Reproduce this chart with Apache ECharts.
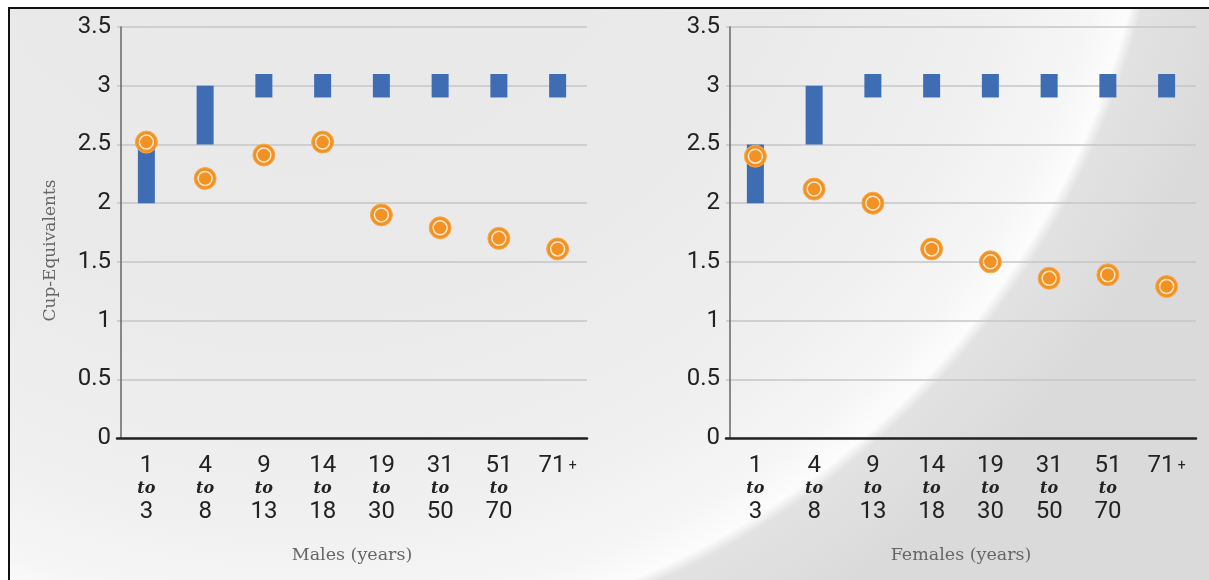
<!DOCTYPE html>
<html>
<head>
<meta charset="utf-8">
<script src="https://cdn.jsdelivr.net/npm/echarts@6/dist/echarts.min.js"></script>
<style>
  html, body { margin: 0; padding: 0; }
  body { width: 1209px; height: 580px; overflow: hidden; background: #fff; }
  #frame {
    position: absolute; left: 8px; top: 7px; width: 1201px; height: 573px;
    border-top: 2px solid #111; border-left: 2px solid #111;
    background:
      radial-gradient(ellipse 860px 850px at 292px -207px, #e8e8e8 0%, #eaeaea 60%, #f0f0f0 85%, #f6f6f6 95%, #fcfcfc 99.2%, #e2e2e2 100.6%, #dadada 112%);
  }
  #chart { position: absolute; left: 0; top: 0; width: 1209px; height: 580px; }
</style>
</head>
<body>
<div id="frame"></div>
<div id="chart"></div>
<script>
const ageGroups = ["1|3", "4|8", "9|13", "14|18", "19|30", "31|50", "51|70", "71+"];
const yTicks = [0, 0.5, 1, 1.5, 2, 2.5, 3, 3.5];

// recommended range (low / high) and usual intake, cup-equivalents
const maleLow = [2, 2.5, 2.9, 2.9, 2.9, 2.9, 2.9, 2.9];
const maleHigh = [2.5, 3, 3.1, 3.1, 3.1, 3.1, 3.1, 3.1];
const maleIntake = [2.52, 2.21, 2.41, 2.52, 1.9, 1.79, 1.7, 1.61];

const femaleLow = [2, 2.5, 2.9, 2.9, 2.9, 2.9, 2.9, 2.9];
const femaleHigh = [2.5, 3, 3.1, 3.1, 3.1, 3.1, 3.1, 3.1];
const femaleIntake = [2.4, 2.12, 2.0, 1.61, 1.5, 1.36, 1.39, 1.29];

const BLUE = "#3f6db3";
const ORANGE = "#f39224";
const NUM_FONT = "Roboto, 'Liberation Sans', sans-serif";
const SERIF = "'DejaVu Serif', 'Liberation Serif', serif";

const chart = echarts.init(document.getElementById("chart"));

function xAxisFor(idx, name) {
  return {
    type: "category",
    gridIndex: idx,
    data: ageGroups,
    name: name,
    nameLocation: "middle",
    nameGap: 108,
    nameTextStyle: { fontFamily: SERIF, fontSize: 17.5, color: "#666" },
    axisLine: { lineStyle: { color: "#222", width: 2.5 } },
    axisTick: { show: false },
    axisLabel: {
      interval: 0,
      margin: 16,
      formatter: function (v) {
        if (v === "71+") return "{n|71} {p|+}";
        const p = v.split("|");
        return "{n|" + p[0] + "}\n{t|to}\n{n|" + p[1] + "}";
      },
      rich: {
        n: { fontFamily: NUM_FONT, fontSize: 24, color: "#222", lineHeight: 24 },
        t: { fontFamily: SERIF, fontStyle: "italic", fontWeight: "bold", fontSize: 16, color: "#222", lineHeight: 22 },
        p: { fontFamily: NUM_FONT, fontSize: 14, color: "#222", lineHeight: 24 }
      }
    }
  };
}

function yAxisFor(idx, name) {
  return {
    type: "value",
    gridIndex: idx,
    min: 0, max: 3.5, interval: 0.5,
    offset: -4,
    name: name,
    nameLocation: "middle",
    nameGap: 62,
    nameTextStyle: { fontFamily: SERIF, fontSize: 17, color: "#666", padding: [0, 36, 0, 0] },
    axisLine: { show: true, lineStyle: { color: "#666", width: 1.5 } },
    axisTick: { show: false },
    splitLine: { lineStyle: { color: "#c6c6c6", width: 1.5 } },
    axisLabel: {
      margin: 10,
      fontFamily: NUM_FONT, fontSize: 24, color: "#222",
      formatter: function (v) { return yTicks.indexOf(v) >= 0 ? String(v) : ""; }
    }
  };
}

function seriesFor(idx, low, high, intake) {
  const stackName = "range" + idx;
  return [
    {
      type: "bar", xAxisIndex: idx, yAxisIndex: idx, stack: stackName,
      data: low, barWidth: 17, itemStyle: { color: "transparent" }, silent: true
    },
    {
      type: "bar", xAxisIndex: idx, yAxisIndex: idx, stack: stackName,
      data: high.map((h, i) => +(h - low[i]).toFixed(3)), barWidth: 17,
      itemStyle: { color: BLUE }
    },
    {
      type: "scatter", xAxisIndex: idx, yAxisIndex: idx, data: intake,
      symbol: "circle", symbolSize: 22,
      itemStyle: { color: ORANGE, borderColor: "#f7a94e", borderWidth: 1, opacity: 1 }, z: 5
    },
    {
      type: "scatter", xAxisIndex: idx, yAxisIndex: idx, data: intake,
      symbol: "circle", symbolSize: 14,
      itemStyle: { color: ORANGE, borderColor: "#fee8cc", borderWidth: 1.5, opacity: 1 }, z: 6
    }
  ];
}

chart.setOption({
  animation: false,
  grid: [
    { left: 117, top: 27, width: 470, height: 411 },
    { left: 726, top: 27, width: 470, height: 411 }
  ],
  xAxis: [xAxisFor(0, "Males (years)"), xAxisFor(1, "Females (years)")],
  yAxis: [yAxisFor(0, "Cup-Equivalents"), yAxisFor(1, "")],
  series: [].concat(
    seriesFor(0, maleLow, maleHigh, maleIntake),
    seriesFor(1, femaleLow, femaleHigh, femaleIntake)
  )
});
</script>
</body>
</html>
